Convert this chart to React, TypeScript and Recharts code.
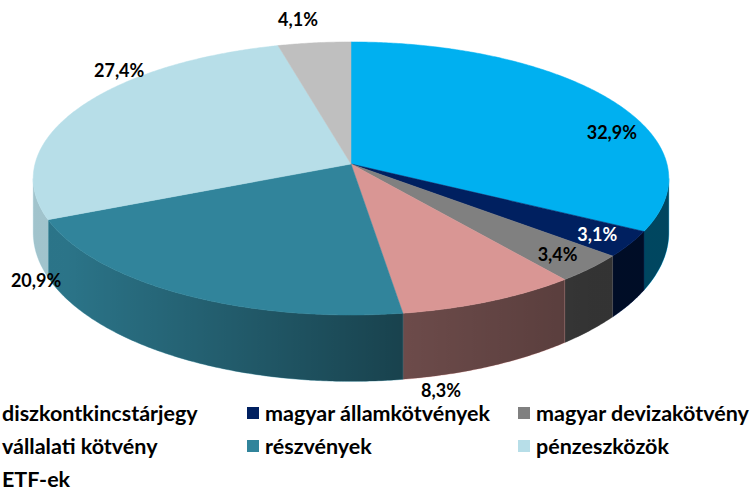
import React from 'react';
import { PieChart, Pie, Legend } from 'recharts';

const CATEGORIES = [
  'diszkontkincstárjegy',
  'magyar államkötvények',
  'magyar devizakötvény',
  'vállalati kötvény',
  'részvények',
  'pénzeszközök',
  'ETF-ek',
];
const VALUES = [32.9, 3.1, 3.4, 8.3, 20.9, 27.4, 4.1];
const VALUE_LABELS = ['32,9%', '3,1%', '3,4%', '8,3%', '20,9%', '27,4%', '4,1%'];
const COLORS = ['#00B0F0', '#002060', '#808080', '#D99694', '#31849B', '#B7DEE8', '#BFBFBF'];
const LABEL_COLORS = ['#000000', '#FFFFFF', '#000000', '#000000', '#000000', '#000000', '#000000'];
// label nudges relative to the projected rim point of each slice's mid angle
const LABEL_NUDGE: [number, number][] = [
  [3.5, 33.6],
  [-32.5, -10.3],
  [-32.7, -14.6],
  [-48.9, 88.5],
  [-145.4, -13.7],
  [39.6, -37.9],
  [-16.3, -23.9],
];
const LEGEND_COLUMN_LEFT = [-16, 247, 518];

const data = CATEGORIES.map((name, i) => ({ name, value: VALUES[i], fill: COLORS[i] }));

const FONT = "Lato, 'Open Sans', sans-serif";
const PERSP = 0.106;
const SQUASH = 135 / 316;
const DEPTH = 53;
const RAD = Math.PI / 180;

function project(cx: number, cy: number, r: number, deg: number) {
  const t = deg * RAD;
  const u = Math.cos(t);
  const v = -Math.sin(t);
  const w = 1 - PERSP * v;
  return { x: cx + (r * u) / w, y: cy + (r * SQUASH * v) / w, w };
}

function arcPoints(cx: number, cy: number, r: number, from: number, to: number) {
  const n = Math.max(2, Math.ceil(Math.abs(to - from) / 0.5));
  const pts = [];
  for (let i = 0; i <= n; i++) pts.push(project(cx, cy, r, from + ((to - from) * i) / n));
  return pts;
}

function Slice3D(props: any) {
  const { cx, cy, outerRadius, startAngle, endAngle, fill } = props;
  const top = arcPoints(cx, cy, outerRadius, startAngle, endAngle);
  const topPath =
    `M${cx},${cy} ` + top.map((p) => `L${p.x.toFixed(2)},${p.y.toFixed(2)}`).join(' ') + ' Z';
  const edge = Math.asin(PERSP) / RAD;
  const lo = Math.max(Math.min(startAngle, endAngle), -180 + edge);
  const hi = Math.min(Math.max(startAngle, endAngle), -edge);
  let wall = null;
  if (hi > lo) {
    const upper = arcPoints(cx, cy, outerRadius, hi, lo);
    const lower = upper.map((p) => ({ x: p.x, y: p.y + DEPTH / (p.w * p.w) })).reverse();
    const d =
      'M' +
      upper.map((p) => `${p.x.toFixed(2)},${p.y.toFixed(2)}`).join(' L') +
      ' L' +
      lower.map((p) => `${p.x.toFixed(2)},${p.y.toFixed(2)}`).join(' L') +
      ' Z';
    wall = (
      <g>
        <path d={d} fill={fill} stroke={fill} strokeWidth={0.5} />
        <path d={d} fill="url(#wallShade)" />
      </g>
    );
  }
  return (
    <g>
      <defs>
        <linearGradient id="wallShade" gradientUnits="userSpaceOnUse" x1={33} y1={0} x2={669} y2={0}>
          <stop offset="0" stopColor="#000" stopOpacity={0.12} />
          <stop offset="0.05" stopColor="#000" stopOpacity={0.12} />
          <stop offset="0.58" stopColor="#000" stopOpacity={0.5} />
          <stop offset="0.88" stopColor="#000" stopOpacity={0.6} />
          <stop offset="1" stopColor="#000" stopOpacity={0.6} />
        </linearGradient>
      </defs>
      {wall}
      <path d={topPath} fill={fill} stroke={fill} strokeWidth={0.5} />
    </g>
  );
}

function renderLabel(props: any) {
  const { cx, cy, outerRadius, midAngle, index } = props;
  const p = project(cx, cy, outerRadius, midAngle);
  const [dx, dy] = LABEL_NUDGE[index];
  return (
    <text
      x={p.x + dx}
      y={p.y + dy}
      textAnchor="middle"
      dominantBaseline="central"
      fill={LABEL_COLORS[index]}
      style={{ fontFamily: FONT, fontWeight: 700, fontSize: 18 }}
    >
      {VALUE_LABELS[index]}
    </text>
  );
}

function LegendContent() {
  return (
    <div style={{ position: 'relative', width: 750, height: 91 }}>
      {CATEGORIES.map((name, i) => {
        const col = i % 3;
        const row = Math.floor(i / 3);
        return (
          <div
            key={name}
            style={{
              position: 'absolute',
              left: LEGEND_COLUMN_LEFT[col],
              top: row * 33 + 5,
              height: 20,
              display: 'flex',
              alignItems: 'center',
              whiteSpace: 'nowrap',
            }}
          >
            <span
              style={{ display: 'inline-block', width: 12, height: 12, background: COLORS[i], marginRight: 6 }}
            />
            <span style={{ fontFamily: FONT, fontWeight: 700, fontSize: 21.5, color: '#000', lineHeight: '20px' }}>
              {name}
            </span>
          </div>
        );
      })}
    </div>
  );
}

export default function App() {
  return (
    <div
      style={{
        position: 'absolute',
        left: 0,
        top: 0,
        width: 750,
        height: 489,
        overflow: 'hidden',
        background: '#fff',
      }}
    >
      <PieChart width={750} height={489} margin={{ top: 0, right: 0, bottom: 0, left: 0 }}>
        <Pie
          data={data}
          dataKey="value"
          nameKey="name"
          cx={351}
          cy={164}
          innerRadius={0}
          outerRadius={316}
          startAngle={90}
          endAngle={-270}
          stroke="none"
          isAnimationActive={false}
          shape={Slice3D}
          activeShape={Slice3D}
          label={renderLabel}
          labelLine={false}
        />
        <Legend
          verticalAlign="bottom"
          content={<LegendContent />}
          wrapperStyle={{ position: 'absolute', left: 0, top: 398, bottom: 'auto', width: 750, height: 91 }}
        />
      </PieChart>
    </div>
  );
}
